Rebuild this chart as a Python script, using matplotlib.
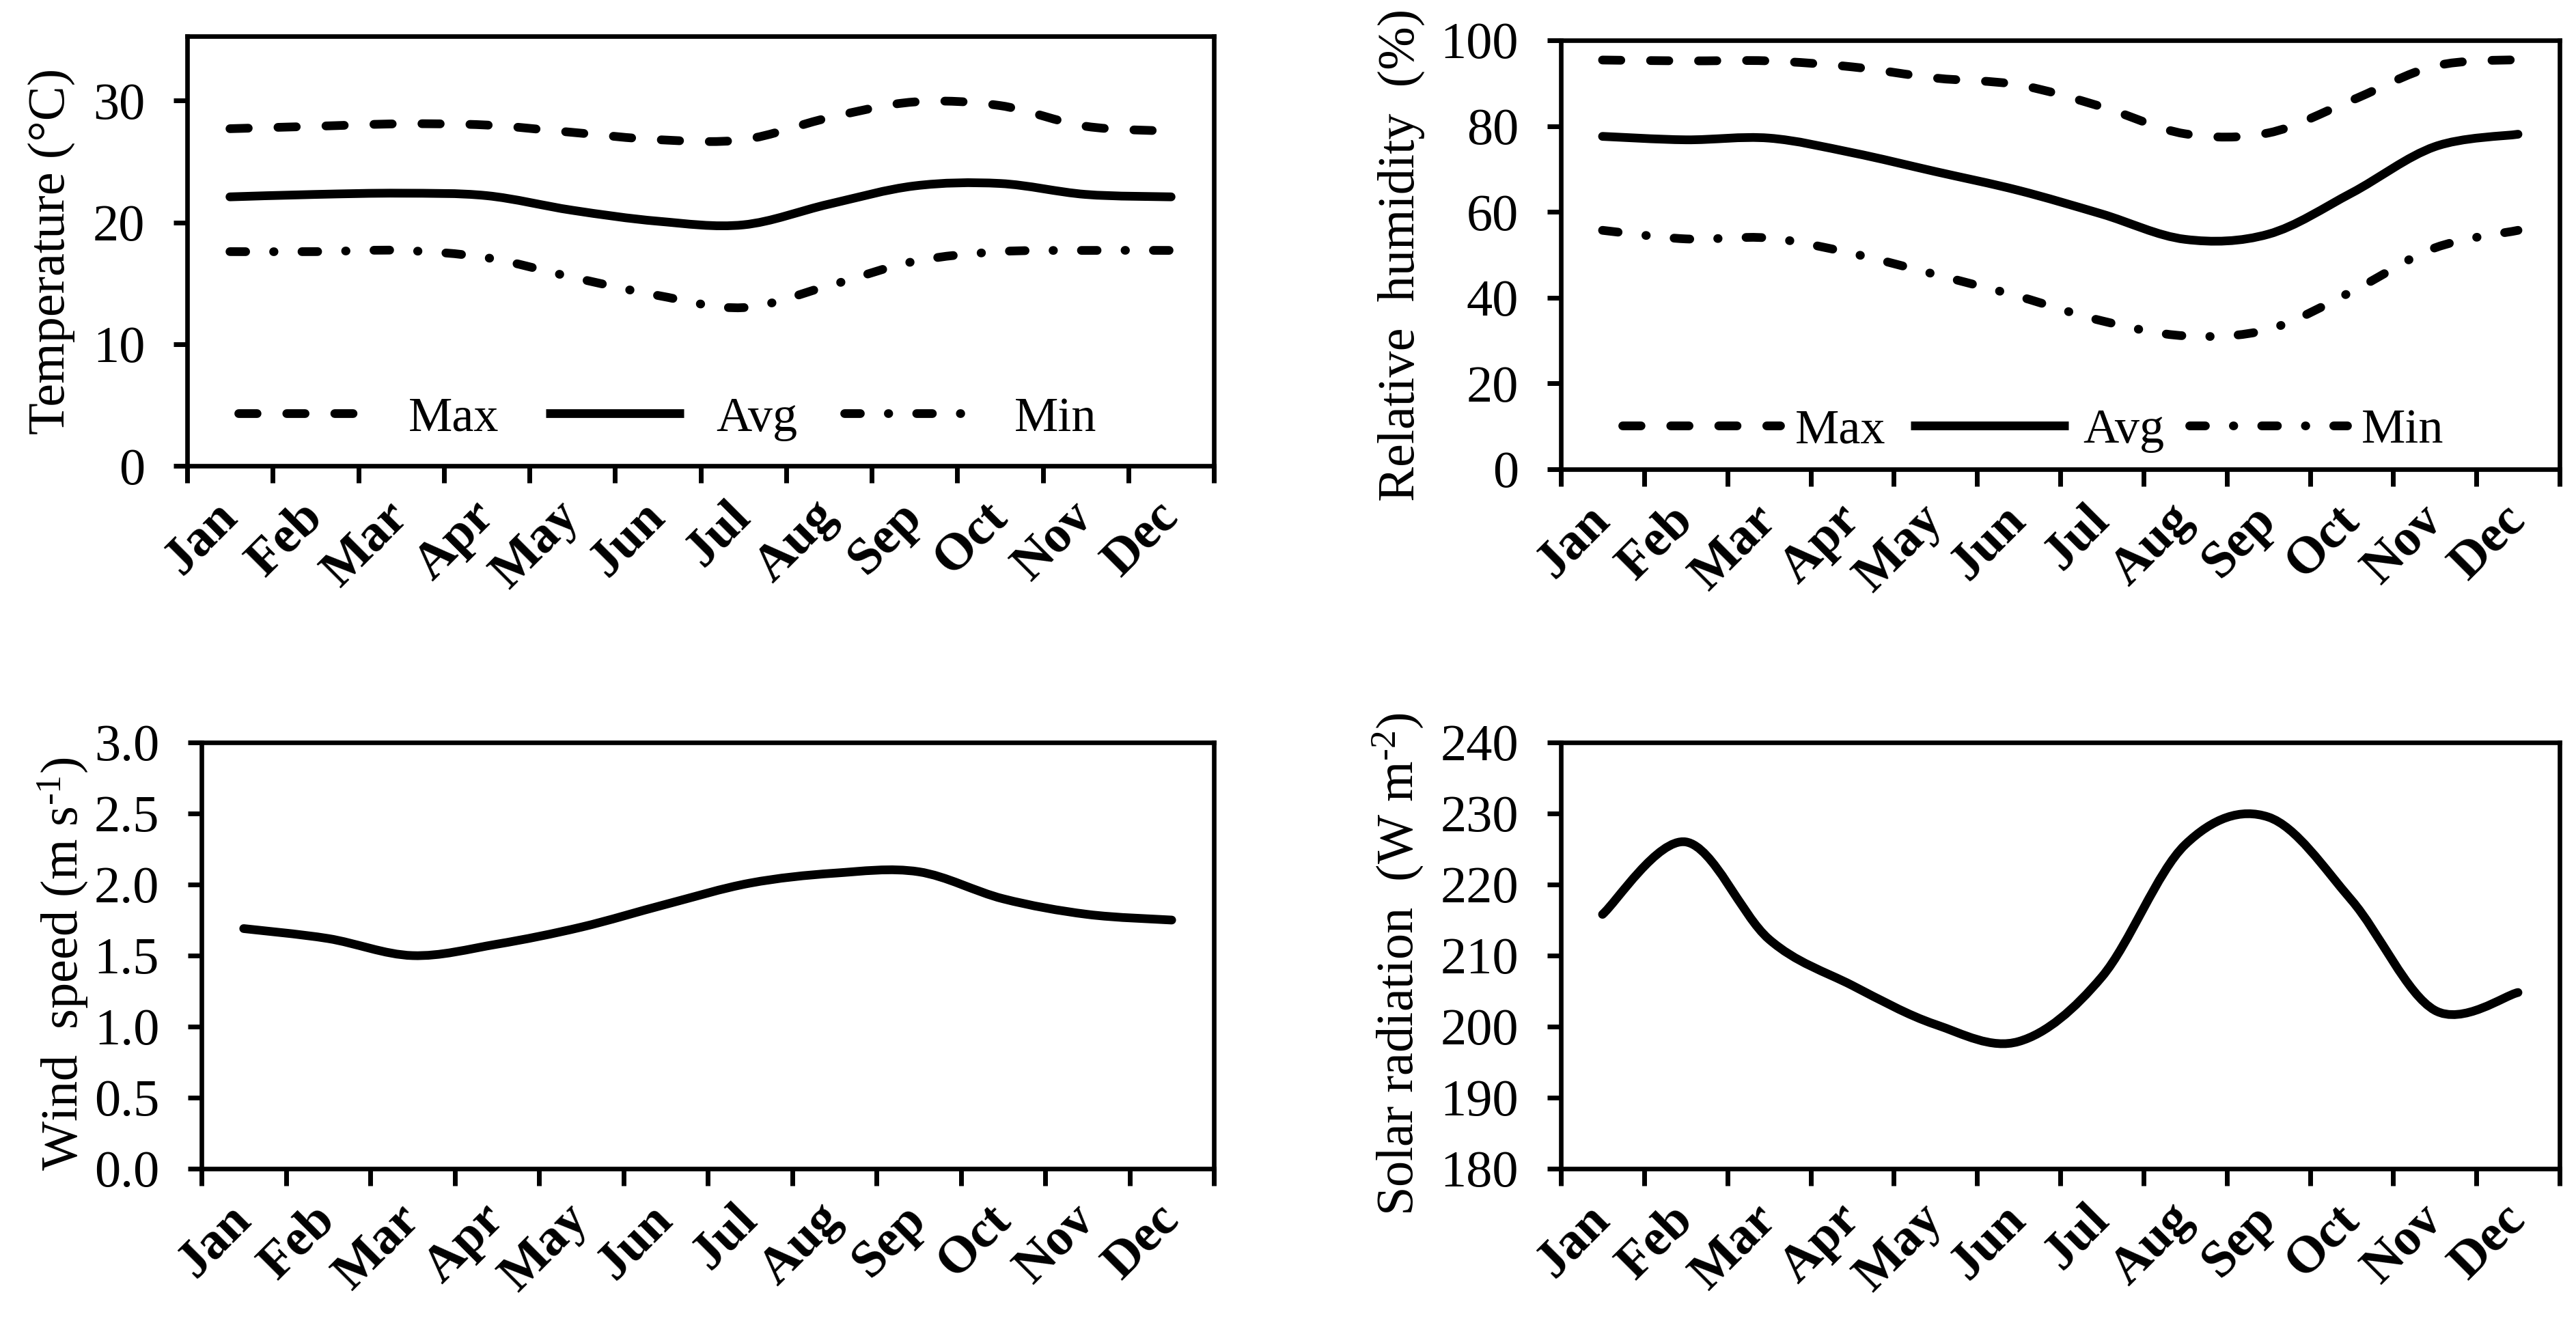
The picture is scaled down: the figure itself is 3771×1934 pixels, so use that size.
import matplotlib
matplotlib.use("Agg")
import matplotlib.pyplot as plt
from matplotlib.path import Path
from matplotlib.patches import PathPatch
from matplotlib.lines import Line2D
import numpy as np

plt.rcParams['font.family'] = ['Liberation Serif', 'DejaVu Serif']
plt.rcParams['mathtext.fontset'] = 'custom'
plt.rcParams['mathtext.rm'] = 'Liberation Serif'
plt.rcParams['mathtext.it'] = 'Liberation Serif:italic'

# ---------------- data ----------------
months = ['Jan', 'Feb', 'Mar', 'Apr', 'May', 'Jun', 'Jul', 'Aug', 'Sep', 'Oct', 'Nov', 'Dec']
temp_max = [27.7, 27.9, 28.1, 28.0, 27.4, 26.8, 26.8, 28.6, 29.9, 29.6, 27.9, 27.5]
temp_avg = [22.1, 22.3, 22.4, 22.2, 21.0, 20.1, 19.8, 21.5, 23.0, 23.2, 22.3, 22.1]
temp_min = [17.6, 17.6, 17.7, 17.1, 15.5, 14.0, 13.0, 14.8, 16.8, 17.6, 17.7, 17.7]
rh_max = [95.4, 95.2, 95.2, 93.8, 91.2, 89.6, 84.5, 78.2, 78.4, 86.0, 94.0, 95.5]
rh_avg = [77.6, 76.8, 77.2, 73.8, 69.4, 65.0, 59.5, 53.6, 54.8, 64.4, 75.2, 78.1]
rh_min = [55.7, 53.7, 53.9, 50.3, 45.4, 40.3, 34.6, 31.1, 32.6, 41.4, 51.6, 55.7]
wind = [1.69, 1.62, 1.50, 1.58, 1.70, 1.86, 2.01, 2.08, 2.09, 1.90, 1.79, 1.75]
solar = [215.8, 226.0, 212.3, 205.8, 200.3, 197.9, 207.0, 225.6, 229.5, 217.8, 202.3, 204.8]
legend_labels = ['Max', 'Avg', 'Min']

# ---------------- style ----------------
W, H, DPI = 3771, 1934, 100
LW = 9.2
FS = 55
LEG_FS = 52
DASHED = (0, (2.1, 3.4))
DASHDOT = (0, (1.8, 3.2, 0.05, 3.2))
SOLID = '-'


def smooth_path(xs, ys):
    """Excel-like smoothed line through the points using cubic Bezier segments."""
    p = np.column_stack([xs, ys]).astype(float)
    n = len(p)
    verts = [p[0]]
    codes = [Path.MOVETO]
    for i in range(n - 1):
        p_prev = p[i - 1] if i > 0 else p[i]
        p_next2 = p[i + 2] if i + 2 < n else p[i + 1]
        c1 = p[i] + (p[i + 1] - p_prev) / 6.0
        c2 = p[i + 1] - (p_next2 - p[i]) / 6.0
        verts += [c1, c2, p[i + 1]]
        codes += [Path.CURVE4] * 3
    return Path(verts, codes)


def draw_series(ax, values, ls):
    x = np.arange(1, len(values) + 1)
    patch = PathPatch(smooth_path(x, values), fill=False, edgecolor='black',
                      lw=LW, linestyle=ls, capstyle='round', joinstyle='round')
    ax.add_patch(patch)


def style_axes(ax, ylim, yticks, fmt, ylabel, label_x, label_y=0.5):
    ax.set_xlim(0.5, len(months) + 0.5)
    ax.set_ylim(*ylim)
    for s in ax.spines.values():
        s.set_linewidth(4.8)
    ax.set_yticks(yticks)
    ax.set_yticklabels([fmt.format(v) for v in yticks])
    ax.tick_params(axis='y', which='major', direction='out', length=14.5, width=5,
                   labelsize=FS, pad=30)
    # category boundaries as major ticks, categories centred as minor ticks
    ax.set_xticks(np.arange(0.5, len(months) + 1.0, 1.0))
    ax.set_xticklabels([])
    ax.tick_params(axis='x', which='major', direction='out', length=18, width=5)
    ax.set_xticks(np.arange(1, len(months) + 1), minor=True)
    ax.set_xticklabels(months, minor=True, rotation=45, ha='right', va='center',
                       rotation_mode='anchor', fontsize=FS, fontweight='bold')
    ax.tick_params(axis='x', which='minor', length=0, pad=46)
    ax.set_ylabel(ylabel, fontsize=FS)
    ax.yaxis.set_label_coords(label_x, label_y)


def add_legend(ax, center, handlelength, textpad, colspace):
    handles = [Line2D([], [], color='black', lw=LW, linestyle=DASHED, dash_capstyle='round'),
               Line2D([], [], color='black', lw=LW, linestyle=SOLID, solid_capstyle='butt'),
               Line2D([], [], color='black', lw=LW, linestyle=DASHDOT, dash_capstyle='round')]
    ax.legend(handles, legend_labels, loc='center', bbox_to_anchor=center, ncol=3,
              frameon=False, fontsize=LEG_FS, handlelength=handlelength,
              handletextpad=textpad, columnspacing=colspace, borderpad=0,
              borderaxespad=0)


fig = plt.figure(figsize=(W / DPI, H / DPI), dpi=DPI)


def ax_at(left, top, right, bottom):
    return fig.add_axes([left / W, 1 - bottom / H, (right - left) / W, (bottom - top) / H])


ax1 = ax_at(274, 53, 1777, 682)
ax2 = ax_at(2285, 59, 3747, 687)
ax3 = ax_at(295, 1087, 1777, 1711)
ax4 = ax_at(2285, 1087, 3747, 1711)

# Temperature
draw_series(ax1, temp_max, DASHED)
draw_series(ax1, temp_avg, SOLID)
draw_series(ax1, temp_min, DASHDOT)
style_axes(ax1, (0, 35.3), [0, 10, 20, 30], '{:g}', 'Temperature (°C)', -0.109)
add_legend(ax1, (0.468, 0.11), 2.8, 0.65, 0.95)

# Relative humidity
draw_series(ax2, rh_max, DASHED)
draw_series(ax2, rh_avg, SOLID)
draw_series(ax2, rh_min, DASHDOT)
style_axes(ax2, (0, 100), [0, 20, 40, 60, 80, 100], '{:g}', 'Relative  humidity  (%)', -0.136)
add_legend(ax2, (0.473, 0.09), 3.2, 0.3, 0.5)

# Wind speed
draw_series(ax3, wind, SOLID)
style_axes(ax3, (0, 3.0), [0.0, 0.5, 1.0, 1.5, 2.0, 2.5, 3.0], '{:.1f}',
           'Wind  speed (m s$^{\\text{-}1}$)', -0.110, 0.48)

# Solar radiation
draw_series(ax4, solar, SOLID)
style_axes(ax4, (180, 240), [180, 190, 200, 210, 220, 230, 240], '{:g}',
           'Solar radiation  (W m$^{\\text{-}2}$)', -0.136, 0.48)

fig.savefig('out.png', dpi=DPI, facecolor='white')
